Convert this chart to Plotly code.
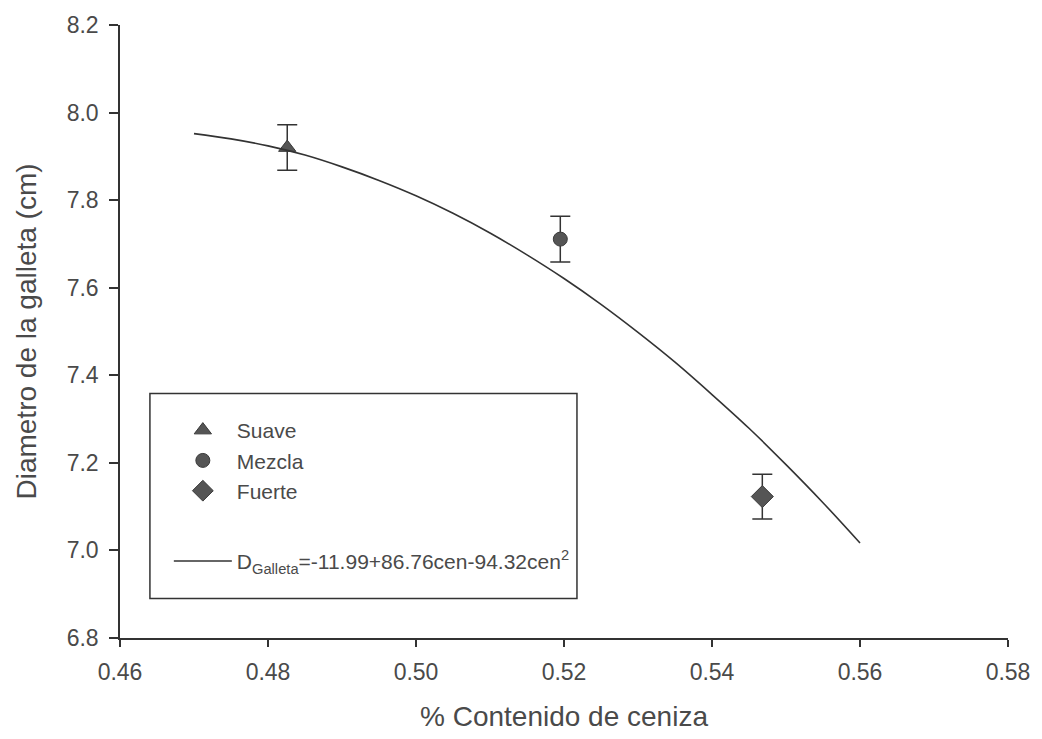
import plotly.graph_objects as go

# Observed data (mean and error) per cookie type
types = ["Suave", "Mezcla", "Fuerte"]
ash = [0.4826, 0.5195, 0.5468]
diam = [7.920, 7.711, 7.123]
err = [0.052, 0.052, 0.051]
symbols = ["triangle-up", "circle", "diamond"]
sizes = [15, 14, 17]

# Fitted curve
curve_x = [0.470, 0.475, 0.480, 0.485, 0.490, 0.495, 0.500, 0.505, 0.510, 0.515,
           0.520, 0.525, 0.530, 0.535, 0.540, 0.545, 0.550, 0.555, 0.560]
curve_y = [7.952, 7.940, 7.924, 7.903, 7.876, 7.845, 7.810, 7.770, 7.725, 7.675,
           7.621, 7.562, 7.498, 7.430, 7.356, 7.279, 7.196, 7.109, 7.017]
curve_label = "D<sub>Galleta</sub>=-11.99+86.76cen-94.32cen<sup>2</sup>"

x_ticks = [0.46, 0.48, 0.50, 0.52, 0.54, 0.56, 0.58]
y_ticks = [6.8, 7.0, 7.2, 7.4, 7.6, 7.8, 8.0, 8.2]

TEXT = "#4a4a4a"
LINE = "#333333"
FONT = "Liberation Sans, Arial, sans-serif"

fig = go.Figure()

for t, xv, yv, e, s, sz in zip(types, ash, diam, err, symbols, sizes):
    fig.add_trace(go.Scatter(
        x=[xv], y=[yv], mode="markers", name=t,
        legendgroup="pts",
        marker=dict(symbol=s, size=sz, color="#555555",
                    line=dict(color="#3a3a3a", width=1)),
        error_y=dict(type="data", array=[e], visible=True,
                     color=LINE, thickness=1.5, width=10),
    ))

fig.add_trace(go.Scatter(
    x=curve_x, y=curve_y, mode="lines", name=curve_label,
    legendgroup="fit",
    line=dict(color=LINE, width=1.6, shape="spline"),
))

# legend frame
fig.add_shape(type="rect", xref="paper", yref="paper",
              x0=0.0337, x1=0.5146, y0=0.0646, y1=0.399,
              line=dict(color=LINE, width=1.5), fillcolor="white", layer="below")

fig.update_layout(
    width=1042, height=739,
    margin=dict(l=120, r=32, t=21, b=99),
    paper_bgcolor="white", plot_bgcolor="white",
    font=dict(family=FONT, color=TEXT, size=23),
    showlegend=True,
    legend=dict(
        x=0.055, y=0.372, xanchor="left", yanchor="top",
        bgcolor="rgba(0,0,0,0)", borderwidth=0,
        font=dict(size=21, color=TEXT),
        tracegroupgap=40,
        itemwidth=58,
    ),
    xaxis=dict(
        range=[0.46, 0.58], tickvals=x_ticks, tickformat=".2f",
        showgrid=False, zeroline=False,
        showline=True, linecolor=LINE, linewidth=1.5,
        ticks="outside", ticklen=7, tickwidth=1.5, tickcolor=LINE,
        ticklabelstandoff=6,
        tickfont=dict(size=23, color=TEXT),
        title=dict(text="% Contenido de ceniza", font=dict(size=28, color=TEXT), standoff=22),
    ),
    yaxis=dict(
        range=[6.8, 8.2], tickvals=y_ticks, tickformat=".1f",
        showgrid=False, zeroline=False,
        showline=True, linecolor=LINE, linewidth=1.5,
        ticks="outside", ticklen=9, tickwidth=1.5, tickcolor=LINE,
        ticklabelstandoff=6,
        tickfont=dict(size=23, color=TEXT),
        title=dict(text="Diametro de la galleta (cm)", font=dict(size=28, color=TEXT), standoff=22),
    ),
)

fig.write_html("out.html")
